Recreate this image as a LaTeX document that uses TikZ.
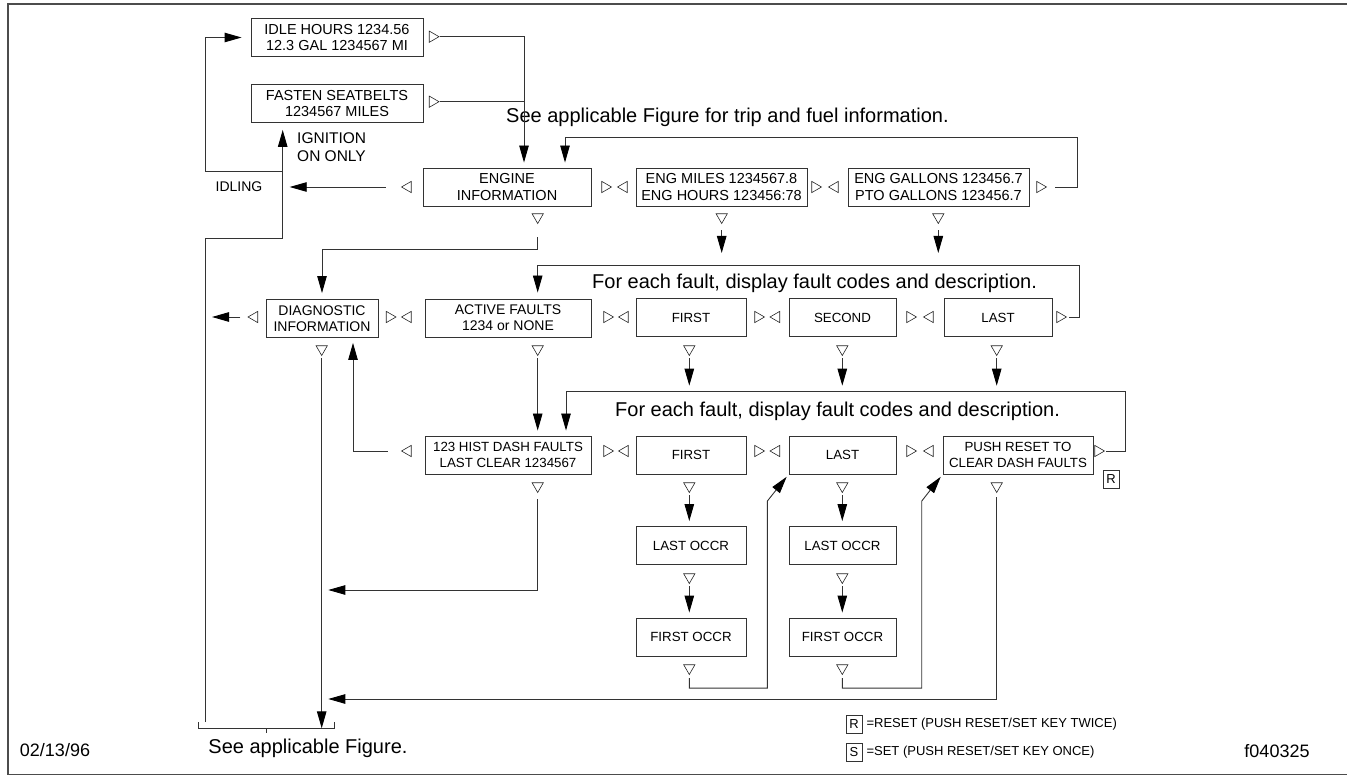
\documentclass[tikz,border=0pt]{standalone}
\usepackage{fontspec}
\setmainfont{Liberation Sans}
\usetikzlibrary{arrows.meta,shapes.geometric}

\begin{document}
\begin{tikzpicture}[x=1pt,y=-1pt,
	line/.style={draw=black!80,line width=0.9pt},
	arr/.style={line,-{Triangle[length=17pt,width=9.5pt,color=black]}},
	box/.style={line,minimum height=38pt,inner sep=0pt,align=center,font=\fontsize{14}{15.7}\selectfont},
	bigbox/.style={box,font=\fontsize{14.5}{16.6}\selectfont},
	smallbox/.style={box,font=\fontsize{13.3}{15.5}\selectfont},
	tri/.style={draw=black!85,line width=0.6pt,fill=white,regular polygon,regular polygon sides=3,minimum size=13pt,inner sep=0pt},
	rt/.style={tri,shape border rotate=-90},
	lt/.style={tri,shape border rotate=90},
	dn/.style={tri,shape border rotate=180},
	keybox/.style={line,line width=0.7pt,minimum width=16pt,minimum height=18pt,inner sep=0pt,font=\fontsize{13}{15}\selectfont},
	head/.style={anchor=west,inner sep=0pt,font=\fontsize{20}{24}\selectfont}]
\useasboundingbox (0,0) rectangle (1347,775);
\draw[line width=1.6pt,black!70] (1347,4) -- (7.7,4) -- (7.7,774.3) -- (1347,774.3);

% screens
\node[bigbox,minimum width=172pt] (idle) at (337,37.5) {IDLE HOURS 1234.56\\12.3 GAL 1234567 MI};
\node[bigbox,minimum width=172pt] (belts) at (337,103.5) {FASTEN SEATBELTS\\1234567 MILES};
\node[bigbox,minimum width=168pt] (engine) at (507,187) {ENGINE\\INFORMATION};
\node[bigbox,minimum width=171pt] (engmiles) at (721.5,187) {ENG MILES 1234567.8\\ENG HOURS 123456:78};
\node[bigbox,minimum width=181pt] (enggal) at (938.5,187) {ENG GALLONS 123456.7\\PTO GALLONS 123456.7};

\node[box,minimum width=112pt] (diag) at (322,318.5) {DIAGNOSTIC\\INFORMATION};
\node[box,minimum width=166pt] (active) at (508,318) {ACTIVE FAULTS\\1234 or NONE};
\node[smallbox,minimum width=110pt] (afirst) at (691,317.5) {FIRST};
\node[smallbox,minimum width=107pt] (asecond) at (842.5,317.5) {SECOND};
\node[smallbox,minimum width=108pt] (alast) at (998,317.5) {LAST};

\node[smallbox,minimum width=166pt] (hist) at (508,455) {123 HIST DASH FAULTS\\LAST CLEAR 1234567};
\node[smallbox,minimum width=110pt] (hfirst) at (691,455) {FIRST};
\node[smallbox,minimum width=107pt] (hlast) at (842.5,455) {LAST};
\node[smallbox,minimum width=150pt] (reset) at (1018,455) {PUSH RESET TO\\CLEAR DASH FAULTS};
\node[keybox] (rbox) at (1111,479) {R};

\node[smallbox,minimum width=110pt] (lastA) at (691,545.5) {LAST OCCR};
\node[smallbox,minimum width=107pt] (lastB) at (842.5,545.5) {LAST OCCR};
\node[smallbox,minimum width=110pt] (firstA) at (691,637) {FIRST OCCR};
\node[smallbox,minimum width=107pt] (firstB) at (842.5,637) {FIRST OCCR};

% key markers
\node[rt] (idle-r) at (432.5,36.7) {};
\node[rt] (belts-r) at (432.5,101.7) {};
\foreach \n/\s/\x in {engine-l/lt/408,engine-r/rt/605,engmiles-l/lt/624,engmiles-r/rt/815,enggal-l/lt/835,enggal-r/rt/1040}
	\node[\s] (\n) at (\x,187) {};
\foreach \n/\x in {engine-d/537.7,engmiles-d/721.7,enggal-d/938.3}
	\node[dn] (\n) at (\x,217) {};
\foreach \n/\s/\x in {diag-l/lt/254.5,diag-r/rt/389.5,active-l/lt/408,active-r/rt/607,afirst-l/lt/625,afirst-r/rt/758,asecond-l/lt/776.5,asecond-r/rt/910,alast-l/lt/930,alast-r/rt/1060}
	\node[\s] (\n) at (\x,317) {};
\foreach \n/\x in {diag-d/321.7,active-d/537.7,afirst-d/689.3,asecond-d/842.3,alast-d/996.7}
	\node[dn] (\n) at (\x,349) {};
\foreach \n/\s/\x in {hist-l/lt/408,hist-r/rt/607,hfirst-l/lt/625,hfirst-r/rt/758,hlast-l/lt/776.5,hlast-r/rt/910,reset-l/lt/930,reset-r/rt/1098}
	\node[\s] (\n) at (\x,451) {};
\foreach \n/\x in {hist-d/537.7,hfirst-d/689.3,hlast-d/842.3,reset-d/996.7}
	\node[dn] (\n) at (\x,486) {};
\node[dn] (lastA-d) at (689.3,577) {};
\node[dn] (lastB-d) at (842.3,577) {};
\node[dn] (firstA-d) at (689.3,668) {};
\node[dn] (firstB-d) at (842.3,668) {};

% texts
\node[head] (t1) at (506,117) {See applicable Figure for trip and fuel information.};
\node[head] (t2) at (592,283) {For each fault, display fault codes and description.};
\node[head] (t3) at (615,411.7) {For each fault, display fault codes and description.};
\node[anchor=west,align=left,inner sep=0pt,font=\fontsize{15.5}{17.5}\selectfont] (ign) at (297,147) {IGNITION\\ON ONLY};
\node[font=\fontsize{14}{16}\selectfont] (idling) at (239,187) {IDLING};
\node[font=\fontsize{20}{24}\selectfont] (see) at (308,748) {See applicable Figure.};
\node[font=\fontsize{18}{20}\selectfont] (date) at (55,750) {02/13/96};
\node[font=\fontsize{18}{20}\selectfont] (fig) at (1277,751) {f040325};
\node[keybox] (rkey) at (854,724) {R};
\node[anchor=west,inner sep=0pt,font=\fontsize{13}{15}\selectfont] (rtext) at ([xshift=4pt]rkey.east) {=RESET (PUSH RESET/SET KEY TWICE)};
\node[keybox] (skey) at (854,752) {S};
\node[anchor=west,inner sep=0pt,font=\fontsize{13}{15}\selectfont] (stext) at ([xshift=4pt]skey.east) {=SET (PUSH RESET/SET KEY ONCE)};

% left loop and bracket
\coordinate (lb) at (205.7,722);
\coordinate (lc) at (282.7,238);
\coordinate (lj) at (282.7,171.7);
\coordinate (bl) at (198.3,728.3);
\coordinate (br) at (334.3,728.3);
\coordinate (bm) at (266.7,728.3);
\draw[arr,shorten >=7pt] (lb) |- (lc) -- (lc |- belts.south);
\draw[arr,shorten >=9pt] (lj) -| (lb |- idle.west) -- (idle.west);
\draw[line,line width=0.7pt] ([yshift=6pt]bl) -- (bl) -- (br) -- ([yshift=6pt]br);
\draw[line,line width=0.7pt] (bm) -- ++(0,4.5);

% top rows
\coordinate (j1) at (524,101.7);
\coordinate (h1) at (1077,137);
\coordinate (h2) at (1079,265);
\coordinate (h3) at (1125,391.7);
\coordinate (dout) at (212,317);
\draw[line] (idle-r.east) -| (j1);
\draw[arr,shorten >=5pt] (belts-r.east) -| (engine.north -| j1);
\draw[arr,shorten >=5pt] ([xshift=8pt]enggal-r.east) -| (h1) -| ([xshift=58pt]engine.north);
\draw[arr,shorten >=7pt] ([xshift=-15pt]engine-l.west) -- (engine-l -| lc);
\draw[arr,shorten >=6pt] ([yshift=-13pt]engine-d.south) -- ++(0,12) -| (diag.north);
\draw[arr,shorten >=12pt] ([yshift=-6pt]engmiles-d.south) -- (engmiles-d |- h2);
\draw[arr,shorten >=12pt] ([yshift=-6pt]enggal-d.south) -- (enggal-d |- h2);
\draw[arr,shorten >=6pt] ([xshift=2pt]alast-r.east) -| (h2) -| (active-d |- active.north);
\draw[arr] ([xshift=-7pt]diag-l.west) -- (dout);
\draw[arr] ([yshift=-2pt]diag-d.south) -- (diag-d |- bl);
\draw[arr,shorten >=5pt] ([yshift=-2pt]active-d.south) -- (active-d |- hist.north);
\draw[arr,shorten >=5pt] ([xshift=1pt]reset-r.east) -| (h3) -| ([xshift=58pt]hist.north);
\foreach \n in {afirst-d,asecond-d,alast-d}
	\draw[arr,shorten >=6pt] ([yshift=-2pt]\n.south) -- (\n |- h3);

% history faults
\coordinate (m1) at (321.7,590);
\coordinate (m2) at (321.7,699);
\draw[arr,shorten >=5pt] ([xshift=-13pt]hist-l.west) -| ([xshift=31pt]diag.south);
\draw[arr,shorten >=6.6pt] ([yshift=-6pt]hist-d.south) |- (m1);
\draw[arr,shorten >=6.6pt] ([yshift=-4pt]reset-d.south) |- (m2);
\draw[arr,shorten >=5pt] ([yshift=-2pt]hfirst-d.south) -- (lastA.north -| hfirst-d);
\draw[arr,shorten >=5pt] ([yshift=-2pt]lastA-d.south) -- (firstA.north -| lastA-d);
\draw[arr,shorten >=5pt] ([yshift=-2pt]hlast-d.south) -- (lastB.north -| hlast-d);
\draw[arr,shorten >=5pt] ([yshift=-2pt]lastB-d.south) -- (firstB.north -| lastB-d);
\draw[arr,shorten >=3pt] ([yshift=-3pt]firstA-d.south) -- ++(0,10) -- ++(78,0) -- ++(0,-187) -- (hlast.south west);
\draw[arr,shorten >=3pt] ([yshift=-3pt]firstB-d.south) -- ++(0,10) -- ++(79.4,0) -- ++(0,-187) -- (reset.south west);
\end{tikzpicture}
\end{document}
